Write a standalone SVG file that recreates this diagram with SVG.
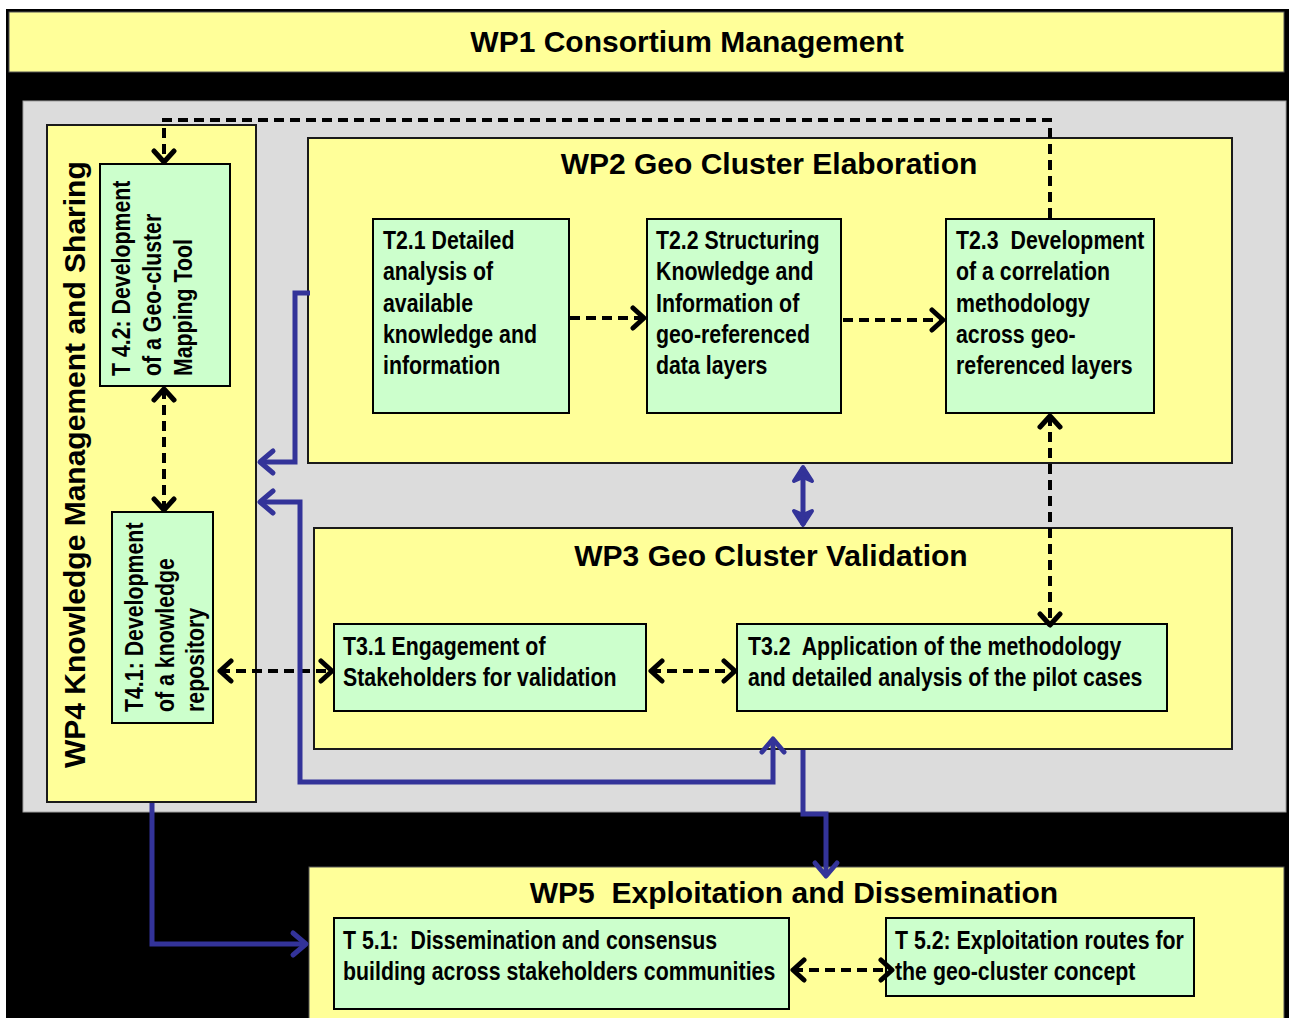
<svg xmlns="http://www.w3.org/2000/svg" width="1289" height="1018" viewBox="0 0 1289 1018">
<style>
.wp{fill:#FFFF99;stroke:#1a1a1a;stroke-width:2}
.task{fill:#CCFFCC;stroke:#000;stroke-width:2}
.title{font-family:"Liberation Sans",Arial,sans-serif;font-weight:bold;font-size:30px;fill:#000}
.tt{font-family:"Liberation Sans",Arial,sans-serif;font-weight:bold;font-size:26px;fill:#000}
.dash{fill:none;stroke:#000;stroke-width:4;stroke-dasharray:10 6}
.blue{fill:none;stroke:#333399;stroke-width:5;stroke-linejoin:miter}
</style>
<defs>
<marker id="ah" viewBox="-15 -13 19 26" refX="0" refY="0" markerWidth="19" markerHeight="26" markerUnits="userSpaceOnUse" orient="auto-start-reverse">
<path d="M-11,-10 L0,0 L-11,10" fill="none" stroke="#000" stroke-width="5" stroke-linecap="round" stroke-linejoin="round"/>
</marker>
<marker id="bh" viewBox="-18 -15 22 30" refX="0" refY="0" markerWidth="22" markerHeight="30" markerUnits="userSpaceOnUse" orient="auto-start-reverse">
<path d="M-13,-11 L0,0 L-13,11" fill="none" stroke="#333399" stroke-width="5" stroke-linecap="round" stroke-linejoin="round"/>
</marker>
<marker id="bd" viewBox="-18 -15 22 30" refX="0" refY="0" markerWidth="22" markerHeight="30" markerUnits="userSpaceOnUse" orient="auto-start-reverse">
<path d="M-14,-9 L0,0 L-14,9 L-10,0 Z" fill="#333399" stroke="#333399" stroke-width="4" stroke-linecap="round" stroke-linejoin="round"/>
</marker>
</defs>
<rect x="6" y="9" width="1283" height="1009" fill="#000"/>
<rect x="23" y="101" width="1263" height="711" fill="#DCDCDC" stroke="#A0A0A0" stroke-width="1"/>
<g id="wp1">
<rect x="9" y="12" width="1275" height="60" fill="#FFFF99" stroke="#555" stroke-width="1"/>
<text class="title" x="687" y="52" text-anchor="middle">WP1 Consortium Management</text>
</g>
<g id="wp4">
<rect class="wp" x="47" y="125" width="209" height="677"/>
<text class="title" transform="translate(85,768) rotate(-90)">WP4 Knowledge Management and Sharing</text>
</g>
<g id="t42">
<rect class="task" x="100" y="164" width="130" height="222"/>
<text class="tt" transform="translate(130,376) rotate(-90) scale(0.82,1)"><tspan x="0" y="0">T 4.2: Development</tspan><tspan x="0" y="31">of a Geo-cluster</tspan><tspan x="0" y="62">Mapping Tool</tspan></text>
</g>
<g id="t41">
<rect class="task" x="112" y="512" width="101" height="211"/>
<text class="tt" transform="translate(143,712) rotate(-90) scale(0.82,1)"><tspan x="0" y="0">T4.1: Development</tspan><tspan x="0" y="31">of a knowledge</tspan><tspan x="0" y="61">repository</tspan></text>
</g>
<g id="wp2">
<rect class="wp" x="308" y="138" width="924" height="325"/>
<text class="title" x="769" y="174" text-anchor="middle">WP2 Geo Cluster Elaboration</text>
</g>
<g id="t21">
<rect class="task" x="373" y="219" width="196" height="194"/>
<text class="tt" transform="translate(383,0) scale(0.82,1)"><tspan x="0" y="249">T2.1 Detailed</tspan><tspan x="0" y="280">analysis of</tspan><tspan x="0" y="312">available</tspan><tspan x="0" y="343">knowledge and</tspan><tspan x="0" y="374">information</tspan></text>
</g>
<g id="t22">
<rect class="task" x="647" y="219" width="194" height="194"/>
<text class="tt" transform="translate(656,0) scale(0.82,1)"><tspan x="0" y="249">T2.2 Structuring</tspan><tspan x="0" y="280">Knowledge and</tspan><tspan x="0" y="312">Information of</tspan><tspan x="0" y="343">geo-referenced</tspan><tspan x="0" y="374">data layers</tspan></text>
</g>
<g id="t23">
<rect class="task" x="946" y="219" width="208" height="194"/>
<text class="tt" transform="translate(956,0) scale(0.82,1)" xml:space="preserve"><tspan x="0" y="249">T2.3  Development</tspan><tspan x="0" y="280">of a correlation</tspan><tspan x="0" y="312">methodology</tspan><tspan x="0" y="343">across geo-</tspan><tspan x="0" y="374">referenced layers</tspan></text>
</g>
<g id="wp3">
<rect class="wp" x="314" y="528" width="918" height="221"/>
<text class="title" x="771" y="566" text-anchor="middle">WP3 Geo Cluster Validation</text>
</g>
<g id="t31">
<rect class="task" x="334" y="624" width="312" height="87"/>
<text class="tt" transform="translate(343,0) scale(0.82,1)"><tspan x="0" y="655">T3.1 Engagement of</tspan><tspan x="0" y="686">Stakeholders for validation</tspan></text>
</g>
<g id="t32">
<rect class="task" x="737" y="624" width="430" height="87"/>
<text class="tt" transform="translate(748,0) scale(0.82,1)" xml:space="preserve"><tspan x="0" y="655">T3.2  Application of the methodology</tspan><tspan x="0" y="686">and detailed analysis of the pilot cases</tspan></text>
</g>
<g id="wp5">
<rect x="309" y="867" width="975" height="153" fill="#FFFF99" stroke="#555" stroke-width="1"/>
<text class="title" x="794" y="903" text-anchor="middle" xml:space="preserve">WP5  Exploitation and Dissemination</text>
</g>
<g id="t51">
<rect class="task" x="334" y="918" width="455" height="91"/>
<text class="tt" transform="translate(343,0) scale(0.82,1)" xml:space="preserve"><tspan x="0" y="949">T 5.1:  Dissemination and consensus</tspan><tspan x="0" y="980">building across stakeholders communities</tspan></text>
</g>
<g id="t52">
<rect class="task" x="886" y="918" width="308" height="78"/>
<text class="tt" transform="translate(895,0) scale(0.82,1)"><tspan x="0" y="949">T 5.2: Exploitation routes for</tspan><tspan x="0" y="980">the geo-cluster concept</tspan></text>
</g>
<g id="connectors">
<path class="dash" d="M1050,218 L1050,120 L164,120 L164,162" marker-end="url(#ah)"/>
<path class="dash" d="M570,318 L644,318" marker-end="url(#ah)"/>
<path class="dash" d="M843,320 L943,320" marker-end="url(#ah)"/>
<path class="dash" d="M164,389 L164,510" marker-start="url(#ah)" marker-end="url(#ah)"/>
<path class="dash" d="M220,671 L332,671" marker-start="url(#ah)" marker-end="url(#ah)"/>
<path class="dash" d="M651,671 L735,671" marker-start="url(#ah)" marker-end="url(#ah)"/>
<path class="dash" d="M1050,416 L1050,625" marker-start="url(#ah)" marker-end="url(#ah)"/>
<path class="dash" d="M793,970 L892,970" marker-start="url(#ah)" marker-end="url(#ah)"/>
<path class="blue" d="M310,293 L295,293 L295,462 L260,462" marker-end="url(#bh)"/>
<path class="blue" d="M260,502 L300,502 L300,782 L773,782 L773,739" marker-start="url(#bh)" marker-end="url(#bh)"/>
<path class="blue" d="M803,750 L803,814 L826,814 L826,876" marker-end="url(#bh)"/>
<path class="blue" d="M152,803 L152,944 L306,944" marker-end="url(#bh)"/>
<path class="blue" d="M803,467 L803,525" marker-start="url(#bd)" marker-end="url(#bd)"/>
</g>
</svg>
